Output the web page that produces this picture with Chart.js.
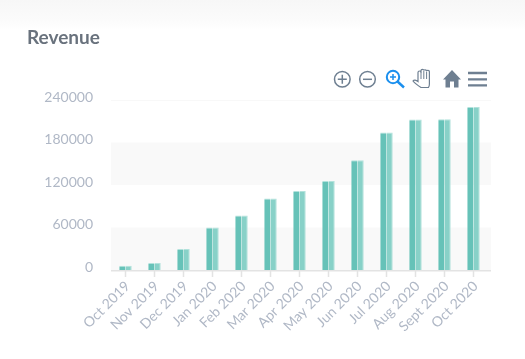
<!DOCTYPE html>
<html>
<head>
<meta charset="utf-8">
<script src="https://cdn.jsdelivr.net/npm/chart.js@4/dist/chart.umd.js"></script>
<style>
  html, body { margin: 0; width: 525px; height: 359px; overflow: hidden; }
  body { background: linear-gradient(#f7f7f7 0, #fbfbfb 20px, #fff 30px); position: relative; }
  #title { position: absolute; left: 27px; top: 26px; font: bold 19px/22px Lato, sans-serif; color: #69727d; }
  #chart { position: absolute; left: 0; top: 0; }
  #tools { position: absolute; left: 0; top: 0; }
</style>
</head>
<body>
<canvas id="chart" width="525" height="359"></canvas>
<div id="title">Revenue</div>
<svg id="tools" width="525" height="100" fill="none" stroke="#6e7f91" stroke-width="1.5">
  <circle cx="342.3" cy="79.3" r="7.8"/>
  <path d="M337.8 79.3h9M342.3 74.8v9"/>
  <circle cx="367.5" cy="79.3" r="7.8"/>
  <path d="M363 79.3h9"/>
  <g stroke="#1a8fee">
    <circle cx="393" cy="77" r="6.2" stroke-width="2"/>
    <path d="M390 77h6M393 74v6" stroke-width="1.5"/>
    <path d="M397.5 81.5l6.5 6" stroke-width="2.4"/>
  </g>
  <path d="M421 87.5c-3-2-6-4-8-6.500 1-1.500 3-1 5 .5v-9c0-2 3-2 3 0v-2c0-1.500 2.800-1.500 2.800 0c0-1 2.800-1 2.800 .5c0-1 2.800-1 2.800 .5v12.500c0 2-.5 3-1 3.500z" stroke-width="1.2"/>
  <path d="M421 72v7M423.800 71v8M426.600 71.500v7.500" stroke-width="1"/>
  <path d="M443 79.500l9-9.500 9 9.500h-2.500v8h-4.500v-6h-4v6h-4.500v-8z" fill="#6e7f91" stroke="none"/>
  <path d="M468 73h19M468 79.300h19M468 85.300h19" stroke-width="2.300"/>
</svg>
<script>
const months = ["Oct 2019", "Nov 2019", "Dec 2019", "Jan 2020", "Feb 2020", "Mar 2020", "Apr 2020",
  "May 2020", "Jun 2020", "Jul 2020", "Aug 2020", "Sept 2020", "Oct 2020"];
const revenue = [6000, 10000, 29500, 60000, 77000, 101000, 111500, 125500, 155000, 194000, 212500, 213000, 230000];
const yTicks = [0, 60000, 120000, 180000, 240000];

const labelColor = "#b0b8c6";

// striped background and the axis line run a little past the last category
const bandsPlugin = {
  id: "bands",
  beforeDatasetsDraw(chart) {
    const { ctx, chartArea, scales } = chart;
    const left = chartArea.left;
    const right = chartArea.right + 3;
    ctx.save();
    ctx.fillStyle = "#f9f9f9";
    for (let i = 0; i < yTicks.length - 1; i += 2) {
      const top = scales.y.getPixelForValue(yTicks[i + 1]);
      const bottom = scales.y.getPixelForValue(yTicks[i]);
      ctx.fillRect(left, top, right - left, bottom - top);
    }
    ctx.fillStyle = "#f8f8f8";
    ctx.fillRect(left, scales.y.getPixelForValue(yTicks[4]), right - left, 1);
    ctx.restore();
  },
  afterDatasetsDraw(chart) {
    const { ctx, chartArea, scales } = chart;
    ctx.save();
    ctx.fillStyle = "#e3e3e3";
    ctx.fillRect(chartArea.left, scales.y.getPixelForValue(0), chartArea.right + 3 - chartArea.left, 1.5);
    ctx.restore();
  },
};

new Chart(document.getElementById("chart"), {
  type: "bar",
  plugins: [bandsPlugin],
  data: {
    labels: months,
    datasets: [
      {
        label: "Revenue",
        data: revenue,
        backgroundColor: "#66c2b8",
        borderColor: "#b3e2dc",
        borderWidth: { top: 1 },
        borderSkipped: false,
      },
      {
        label: "Revenue",
        data: revenue,
        backgroundColor: "#88d1c8",
        borderColor: "#b3e2dc",
        borderWidth: { top: 1, right: 1 },
        borderSkipped: false,
      },
    ],
  },
  options: {
    responsive: false,
    animation: false,
    layout: { padding: { left: 0, right: 37, top: 100, bottom: 0 } },
    datasets: { bar: { barPercentage: 1, categoryPercentage: 0.43 } },
    plugins: { legend: { display: false }, tooltip: { enabled: false } },
    scales: {
      x: {
        afterFit: (scale) => { scale.height = 89; },
        border: { display: false },
        grid: { offset: false, drawOnChartArea: false, tickColor: "#e3e3e3", tickLength: 7, tickWidth: 1.5 },
        ticks: {
          autoSkip: false,
          minRotation: 45,
          maxRotation: 45,
          padding: 1,
          labelOffset: 2,
          color: labelColor,
          font: { family: "Lato", size: 14 },
        },
      },
      y: {
        min: 0,
        max: 240000,
        afterFit: (scale) => { scale.width = 111; },
        afterBuildTicks: (scale) => { scale.ticks = yTicks.map((value) => ({ value })); },
        border: { display: false },
        grid: { display: false },
        ticks: {
          autoSkip: false,
          padding: 10,
          color: labelColor,
          font: { family: "Lato", size: 14, lineHeight: "6px" },
          // empty second line lifts the label above its gridline
          callback: (value) => [String(value), ""],
        },
      },
    },
  },
});
</script>
</body>
</html>
